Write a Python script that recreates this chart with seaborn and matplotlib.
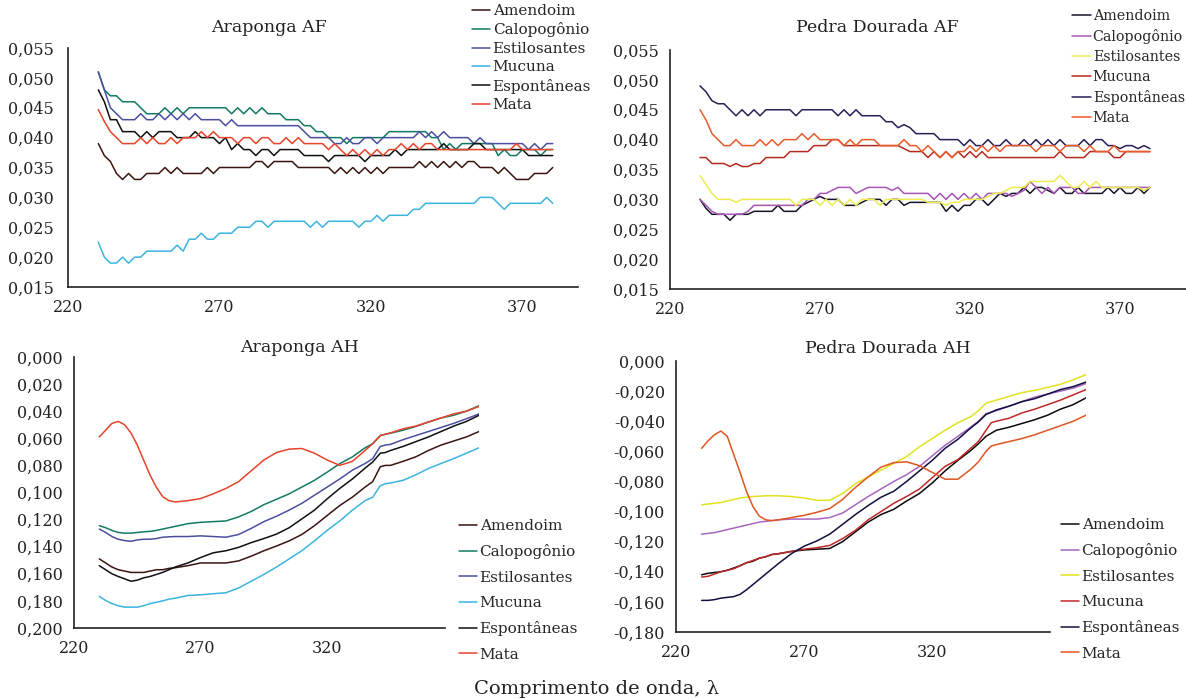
import numpy as np
import pandas as pd
import matplotlib
matplotlib.use("Agg")
import matplotlib.pyplot as plt
import seaborn as sns
from matplotlib.ticker import FuncFormatter, FixedLocator

sns.set_style("white")
plt.rcParams["font.family"] = ["DejaVu Serif"]

# ---------------- data ----------------
series_names = ["Amendoim", "Calopogônio", "Estilosantes", "Mucuna", "Espontâneas", "Mata"]

# AF panels: wavelength 230..380 nm every 2 nm, absorbance x 1000
wl_af = list(range(230, 381, 2))

arap_af = {
    "Amendoim": [39, 37, 36, 34, 33, 34, 33, 33, 34, 34,
                 34, 35, 34, 35, 34, 34, 34, 34, 35, 34,
                 35, 35, 35, 35, 35, 35, 36, 36, 35, 36,
                 36, 36, 36, 35, 35, 35, 35, 35, 35, 34,
                 35, 34, 35, 34, 35, 34, 35, 34, 35, 35,
                 35, 35, 35, 36, 35, 36, 35, 36, 35, 36,
                 35, 36, 36, 35, 35, 35, 34, 35, 34, 33,
                 33, 33, 34, 34, 34, 35],
    "Calopogônio": [51, 48, 47, 47, 46, 46, 46, 45, 44, 44,
                    44, 45, 44, 45, 44, 45, 45, 45, 45, 45,
                    45, 45, 44, 45, 44, 45, 44, 45, 44, 44,
                    44, 43, 43, 43, 42, 42, 41, 41, 40, 40,
                    40, 39, 40, 40, 40, 40, 40, 40, 41, 41,
                    41, 41, 41, 41, 41, 40, 40, 38, 39, 38,
                    39, 39, 39, 39, 39, 39, 37, 38, 37, 37,
                    38, 38, 38, 37, 38, 38],
    "Estilosantes": [51, 48, 45, 44, 43, 43, 43, 44, 43, 43,
                     44, 43, 44, 43, 44, 43, 44, 43, 43, 43,
                     43, 42, 43, 42, 42, 42, 42, 42, 42, 42,
                     42, 42, 42, 42, 41, 40, 40, 40, 40, 39,
                     39, 40, 39, 39, 40, 40, 39, 40, 40, 40,
                     40, 40, 40, 41, 40, 41, 40, 41, 40, 40,
                     40, 40, 39, 40, 39, 39, 39, 39, 39, 39,
                     39, 38, 39, 38, 39, 39],
    "Mucuna": [22.5, 20, 19, 19, 20, 19, 20, 20, 21, 21,
               21, 21, 21, 22, 21, 23, 23, 24, 23, 23,
               24, 24, 24, 25, 25, 25, 26, 26, 25, 26,
               26, 26, 26, 26, 26, 25, 26, 25, 26, 26,
               26, 26, 26, 25, 26, 26, 27, 26, 27, 27,
               27, 27, 28, 28, 29, 29, 29, 29, 29, 29,
               29, 29, 29, 30, 30, 30, 29, 28, 29, 29,
               29, 29, 29, 29, 30, 29],
    "Espontâneas": [48, 46, 43, 43, 41, 41, 41, 40, 41, 40,
                    41, 41, 41, 40, 40, 40, 41, 40, 40, 40,
                    39, 40, 38, 39, 38, 38, 37, 38, 38, 37,
                    38, 38, 38, 38, 37, 37, 37, 37, 36, 37,
                    37, 37, 37, 37, 36, 37, 37, 37, 37, 38,
                    37, 38, 38, 38, 38, 38, 38, 39, 38, 38,
                    38, 38, 39, 39, 38, 38, 38, 38, 38, 38,
                    38, 37, 37, 37, 37, 37],
    "Mata": [44.7, 42.7, 41, 40, 39, 39, 39, 40, 39, 40,
             39, 39, 40, 39, 40, 40, 40, 41, 40, 41,
             40, 40, 40, 39, 40, 40, 39, 40, 40, 39,
             39, 40, 39, 40, 39, 39, 39, 39, 38, 39,
             38, 37, 38, 37, 38, 37, 38, 37, 38, 38,
             39, 38, 39, 38, 39, 39, 38, 38, 38, 38,
             38, 38, 38, 38, 38, 38, 38, 38, 38, 39,
             38, 38, 38, 38, 38, 38],
}

pedra_af = {
    "Amendoim": [30, 28.5, 27.5, 27.5, 27.5, 26.5, 27.5, 27.5, 27.5, 28,
                 28, 28, 28, 29, 28, 28, 28, 29, 29.5, 30,
                 30.5, 30, 30, 30, 29, 29, 29, 29.5, 30, 30,
                 30, 29, 30, 30, 29, 29.5, 29.5, 29.5, 29.5, 29.5,
                 29.5, 28, 29, 28, 29, 29, 30, 30, 29, 30,
                 31, 30.5, 31, 31, 32, 31, 32, 32, 31.5, 31,
                 32, 31, 31, 32, 31, 31, 31, 31, 32, 31,
                 32, 31, 31, 32, 31, 32],
    "Calopogônio": [30, 29, 28, 27.5, 27.5, 27.5, 27.5, 27.5, 28, 29,
                    29, 29, 29, 29, 29, 29, 29, 29, 30, 30,
                    31, 31, 31.5, 32, 32, 32, 31, 31.5, 32, 32,
                    32, 32, 31.5, 32, 31, 31, 31, 31, 31, 30,
                    31, 30, 31, 30, 31, 30, 31, 30, 31, 31,
                    31, 31, 30.5, 31, 31.5, 33, 32, 31, 32, 31,
                    32, 32, 32, 31, 31, 32, 32, 32, 32, 32,
                    32, 32, 32, 32, 32, 32],
    "Estilosantes": [34, 32.5, 31, 30, 30, 30, 29.5, 30, 30, 30,
                     30, 30, 30, 30, 30, 30, 29, 30, 30, 30,
                     29, 30, 29, 30, 29, 30, 29, 30, 30, 30,
                     29, 30, 30, 30, 30, 30, 30, 30, 29.5, 29.5,
                     29.5, 29, 29.5, 29.5, 30, 30, 30, 30, 30.5, 31,
                     31, 31.5, 32, 32, 32, 33, 33, 33, 33, 33,
                     34, 33, 32, 32, 33, 32, 33, 32, 32, 32,
                     32, 32, 32, 32, 31.5, 32],
    "Mucuna": [37, 37, 36, 36, 36, 35.5, 36, 35.5, 35.5, 36,
               36, 37, 37, 37, 37, 38, 38, 38, 38, 39,
               39, 39, 40, 40, 39, 39, 39, 39, 39, 39,
               39, 39, 39, 39, 38.5, 38, 38, 38, 37, 38,
               37, 38, 37, 38, 37, 38, 37, 38, 37, 37,
               37, 37, 37, 37, 37, 37, 37, 37, 37, 37,
               38, 37, 37, 37, 37, 38, 38, 38, 38, 37,
               37, 38, 38, 38, 38, 38],
    "Espontâneas": [49, 48, 46.5, 46, 46, 45, 44, 45, 44, 45,
                    44, 45, 45, 45, 45, 45, 44, 45, 45, 45,
                    45, 45, 45, 44, 45, 44, 45, 44, 44, 44,
                    44, 43, 43, 42, 42.5, 42, 41, 41, 41, 41,
                    40, 40, 40, 40, 39, 40, 39, 39, 40, 39,
                    39, 40, 39, 39, 40, 39, 40, 39, 40, 39,
                    40, 39, 39, 39, 40, 39, 40, 40, 39, 39,
                    38.5, 39, 39, 38.5, 39, 38.5],
    "Mata": [45, 43.3, 41, 40, 39, 39, 40, 39, 39, 39,
             40, 39, 40, 39, 40, 40, 40, 41, 40, 41,
             40, 40, 40, 40, 39, 40, 39, 40, 40, 40,
             39, 39, 39, 39, 40, 39, 39, 38, 39, 38,
             37, 38, 37, 38, 38, 39, 38, 39, 38, 39,
             38, 39, 39, 39, 39, 39, 38, 39, 39, 39,
             38, 39, 39, 39, 38, 39, 38, 38, 38, 39,
             38, 38, 38, 38, 38, 38],
}

# AH panels: wavelength grid (nm)
wl_ah = [230, 232.5, 235, 237.5, 240, 242.5, 245, 247.5, 250, 252.5, 255, 257.5,
         260, 265, 270, 275, 280, 285, 290, 295, 300, 305, 310, 315, 320, 325,
         330, 335, 338, 341, 343, 345, 350, 355, 360, 365, 370, 375, 380]

arap_ah = {
    "Amendoim": [0.149, 0.152, 0.155, 0.157, 0.158, 0.159, 0.159, 0.159, 0.158, 0.157, 0.157, 0.156,
                 0.1555, 0.154, 0.152, 0.152, 0.152, 0.1505, 0.147, 0.143, 0.1395, 0.1357, 0.131, 0.1245,
                 0.117, 0.1096, 0.1034, 0.096, 0.092, 0.081, 0.080, 0.080, 0.077, 0.0737, 0.069, 0.065,
                 0.062, 0.059, 0.055],
    "Calopogônio": [0.1245, 0.126, 0.128, 0.1295, 0.130, 0.130, 0.1295, 0.129, 0.1287, 0.128, 0.127, 0.126,
                    0.125, 0.123, 0.122, 0.1215, 0.121, 0.118, 0.114, 0.109, 0.105, 0.101, 0.096, 0.091,
                    0.085, 0.0787, 0.0737, 0.067, 0.064, 0.058, 0.057, 0.0563, 0.054, 0.0513, 0.048, 0.045,
                    0.043, 0.040, 0.036],
    "Estilosantes": [0.127, 0.1295, 0.1325, 0.1345, 0.1355, 0.136, 0.135, 0.1345, 0.1345, 0.134, 0.133, 0.1327,
                     0.1325, 0.1325, 0.132, 0.1325, 0.133, 0.131, 0.1265, 0.1215, 0.1175, 0.113, 0.108, 0.102,
                     0.096, 0.090, 0.0835, 0.0786, 0.075, 0.066, 0.065, 0.0645, 0.061, 0.058, 0.055, 0.052,
                     0.049, 0.0456, 0.042],
    "Mucuna": [0.1767, 0.1797, 0.182, 0.1836, 0.1846, 0.1846, 0.1846, 0.1836, 0.182, 0.181, 0.180, 0.1787,
               0.178, 0.176, 0.1755, 0.1747, 0.174, 0.1705, 0.1655, 0.1605, 0.155, 0.149, 0.143, 0.1357,
               0.128, 0.121, 0.113, 0.106, 0.1035, 0.095, 0.0935, 0.093, 0.091, 0.087, 0.0823, 0.0786,
               0.075, 0.071, 0.067],
    "Espontâneas": [0.154, 0.157, 0.160, 0.162, 0.1637, 0.1655, 0.1647, 0.163, 0.162, 0.1605, 0.159, 0.157,
                    0.155, 0.152, 0.148, 0.1445, 0.143, 0.1405, 0.137, 0.134, 0.1307, 0.126, 0.1195, 0.113,
                    0.1047, 0.097, 0.090, 0.082, 0.0775, 0.071, 0.0705, 0.069, 0.066, 0.0625, 0.059, 0.055,
                    0.051, 0.0476, 0.043],
    "Mata": [0.059, 0.054, 0.049, 0.0475, 0.050, 0.056, 0.065, 0.076, 0.087, 0.096, 0.103, 0.106,
             0.107, 0.106, 0.1045, 0.101, 0.097, 0.092, 0.084, 0.076, 0.0705, 0.068, 0.0675, 0.071,
             0.076, 0.080, 0.077, 0.069, 0.064, 0.058, 0.057, 0.056, 0.053, 0.051, 0.048, 0.045,
             0.042, 0.040, 0.0365],
}

pedra_ah = {
    "Amendoim": [-0.142, -0.141, -0.1405, -0.140, -0.139, -0.1375, -0.136, -0.134, -0.133, -0.131, -0.130, -0.1285,
                 -0.128, -0.1265, -0.1255, -0.125, -0.1245, -0.120, -0.1135, -0.107, -0.102, -0.0985, -0.093, -0.088,
                 -0.081, -0.073, -0.066, -0.0595, -0.055, -0.050, -0.048, -0.046, -0.044, -0.0415, -0.039, -0.036,
                 -0.032, -0.029, -0.0245],
    "Calopogônio": [-0.115, -0.1145, -0.114, -0.113, -0.112, -0.111, -0.110, -0.109, -0.108, -0.107, -0.1065, -0.106,
                    -0.1055, -0.105, -0.105, -0.105, -0.104, -0.101, -0.0955, -0.090, -0.085, -0.080, -0.0755, -0.070,
                    -0.063, -0.056, -0.050, -0.044, -0.040, -0.035, -0.034, -0.033, -0.030, -0.027, -0.024, -0.022,
                    -0.020, -0.018, -0.015],
    "Estilosantes": [-0.0955, -0.095, -0.0945, -0.094, -0.093, -0.092, -0.091, -0.0905, -0.090, -0.0898, -0.0895, -0.0895,
                     -0.0895, -0.090, -0.091, -0.0925, -0.0925, -0.088, -0.0815, -0.077, -0.0725, -0.068, -0.0635, -0.057,
                     -0.0515, -0.046, -0.041, -0.037, -0.033, -0.028, -0.027, -0.026, -0.0235, -0.021, -0.0195, -0.0175,
                     -0.0155, -0.0125, -0.009],
    "Mucuna": [-0.1435, -0.143, -0.1415, -0.140, -0.139, -0.138, -0.136, -0.134, -0.1325, -0.131, -0.130, -0.1285,
               -0.128, -0.1265, -0.125, -0.124, -0.1225, -0.118, -0.1125, -0.1055, -0.100, -0.0945, -0.090, -0.085,
               -0.0775, -0.070, -0.0655, -0.058, -0.0535, -0.046, -0.041, -0.040, -0.038, -0.0345, -0.032, -0.029,
               -0.026, -0.0225, -0.019],
    "Espontâneas": [-0.159, -0.159, -0.1585, -0.1575, -0.157, -0.1565, -0.155, -0.152, -0.1485, -0.145, -0.1415, -0.138,
                    -0.1345, -0.128, -0.123, -0.1195, -0.115, -0.1085, -0.102, -0.096, -0.0905, -0.0865, -0.080, -0.073,
                    -0.066, -0.058, -0.052, -0.0445, -0.0405, -0.0355, -0.034, -0.0325, -0.030, -0.027, -0.025, -0.022,
                    -0.019, -0.017, -0.014],
    "Mata": [-0.058, -0.053, -0.049, -0.0465, -0.050, -0.062, -0.074, -0.0866, -0.0966, -0.103, -0.1055, -0.106,
             -0.1055, -0.104, -0.1025, -0.1005, -0.098, -0.092, -0.084, -0.077, -0.0705, -0.0675, -0.067, -0.0695,
             -0.074, -0.0785, -0.0785, -0.072, -0.067, -0.060, -0.0565, -0.0555, -0.0535, -0.0515, -0.049, -0.046,
             -0.043, -0.040, -0.036],
}

titles = ["Araponga AF", "Pedra Dourada AF", "Araponga AH", "Pedra Dourada AH"]
x_label = "Comprimento de onda, λ"

colors_arap = ["#3b1510", "#127a63", "#4b4fa0", "#3cb4e0", "#101010", "#e8432b"]
colors_pedra_af = ["#15152a", "#a855b5", "#ecec50", "#b52a1e", "#2a1f55", "#ea5a2a"]
colors_pedra_ah = ["#0a0a0a", "#a865c0", "#e2e21e", "#c02828", "#101040", "#e05522"]

# ---------------- layout ----------------
W, H = 1186, 699
fig = plt.figure(figsize=(W / 100, H / 100), dpi=100)


def axes_px(left, right, top, bottom):
    return fig.add_axes([left / W, 1 - bottom / H, (right - left) / W, (bottom - top) / H])


def comma_fmt(decimals):
    return FuncFormatter(lambda v, p: f"{v:.{decimals}f}".replace(".", ",").replace("-0,000", "0,000"))


FS_TICK = 11.5
FS_LEG = 11
FS_TITLE = 12.5


def style_axes(ax):
    for s in ["top", "right"]:
        ax.spines[s].set_visible(False)
    for s in ["left", "bottom"]:
        ax.spines[s].set_color("#222222")
        ax.spines[s].set_linewidth(1.2)
    ax.tick_params(axis="x", direction="inout", length=7, width=1.1, labelsize=FS_TICK, pad=5, colors="#222222")
    ax.tick_params(axis="y", direction="out", length=5, width=1.1, labelsize=FS_TICK, pad=3, colors="#222222")
    ax.grid(False)
    ax.set_xlabel("")
    ax.set_ylabel("")


def draw(ax, wl, data, colors, scale=1.0, lw=1.1):
    for name, c in zip(series_names, colors):
        y = np.asarray(data[name], dtype=float) * scale
        sns.lineplot(x=wl, y=y, ax=ax, color=c, lw=lw, label=name, estimator=None, sort=False)
    ax.get_legend().remove()


def add_legend(ax, x0, y0, spacing, fontsize=FS_LEG, handlelength=1.2):
    h, l = ax.get_legend_handles_labels()
    fig.legend(h, l, loc="upper left", bbox_to_anchor=(x0 / W, 1 - y0 / H),
               bbox_transform=fig.transFigure, frameon=False, fontsize=fontsize,
               borderaxespad=0, borderpad=0, handlelength=handlelength, handletextpad=0.15,
               labelspacing=spacing)


# Top-left: Araponga AF
ax1 = axes_px(68, 578.5, 48, 287)
draw(ax1, wl_af, arap_af, colors_arap, scale=0.001)
ax1.set_xlim(220, 388.5)
ax1.set_ylim(0.015, 0.055)
ax1.xaxis.set_major_locator(FixedLocator([220, 270, 320, 370]))
ax1.yaxis.set_major_locator(FixedLocator(np.arange(0.015, 0.0551, 0.005)))
ax1.yaxis.set_major_formatter(comma_fmt(3))
style_axes(ax1)
ax1.tick_params(axis="y", pad=5)
add_legend(ax1, 472, 4, 0.29)

# Top-right: Pedra Dourada AF
ax2 = axes_px(670, 1186, 50, 289)
draw(ax2, wl_af, pedra_af, colors_pedra_af, scale=0.001)
ax2.set_xlim(220, 392)
ax2.set_ylim(0.015, 0.055)
ax2.xaxis.set_major_locator(FixedLocator([220, 270, 320, 370]))
ax2.yaxis.set_major_locator(FixedLocator(np.arange(0.015, 0.0551, 0.005)))
ax2.yaxis.set_major_formatter(comma_fmt(3))
style_axes(ax2)
add_legend(ax2, 1072, 9, 0.42, fontsize=10.3, handlelength=1.3)

# Bottom-left: Araponga AH (inverted axis)
ax3 = axes_px(74, 479, 357, 628)
draw(ax3, wl_ah, arap_ah, colors_arap)
ax3.set_xlim(220, 380)
ax3.set_ylim(0.2, 0.0)
ax3.xaxis.set_major_locator(FixedLocator([220, 270, 320]))
ax3.yaxis.set_major_locator(FixedLocator(np.arange(0.0, 0.2001, 0.02)))
ax3.yaxis.set_major_formatter(comma_fmt(3))
style_axes(ax3)
ax3.spines["bottom"].set_bounds(220, 366.5)
add_legend(ax3, 459, 519, 0.74)

# Bottom-right: Pedra Dourada AH
ax4 = axes_px(676, 1086, 361, 632)
draw(ax4, wl_ah, pedra_ah, colors_pedra_ah)
ax4.set_xlim(220, 380)
ax4.set_ylim(-0.18, 0.0)
ax4.xaxis.set_major_locator(FixedLocator([220, 270, 320]))
ax4.yaxis.set_major_locator(FixedLocator(np.arange(-0.18, 0.0001, 0.02)))
ax4.yaxis.set_major_formatter(comma_fmt(3))
style_axes(ax4)
ax4.spines["bottom"].set_bounds(220, 366)
add_legend(ax4, 1061, 518, 0.74)

# Titles
fig.text(269 / W, 1 - 27 / H, titles[0], ha="center", va="center", fontsize=FS_TITLE, color="#222222")
fig.text(877 / W, 1 - 28 / H, titles[1], ha="center", va="center", fontsize=FS_TITLE, color="#222222")
fig.text(300 / W, 1 - 347 / H, titles[2], ha="center", va="center", fontsize=FS_TITLE, color="#222222")
fig.text(888 / W, 1 - 348 / H, titles[3], ha="center", va="center", fontsize=FS_TITLE, color="#222222")
fig.text(597 / W, 1 - 689 / H, x_label, ha="center", va="center", fontsize=14, color="#222222")

fig.savefig("out.png", dpi=100)
